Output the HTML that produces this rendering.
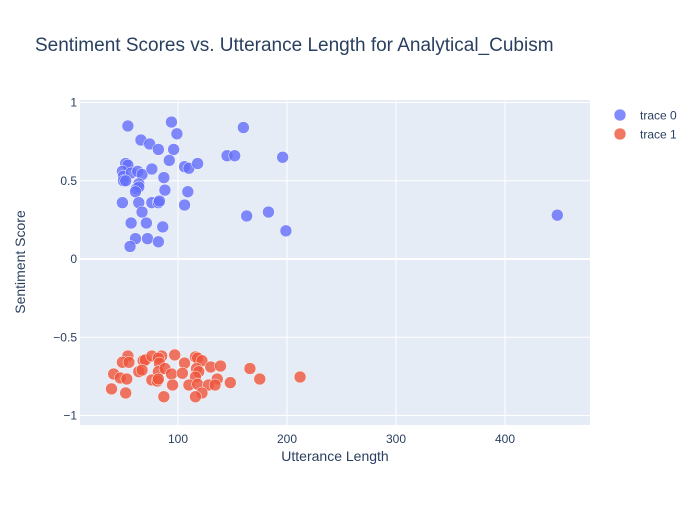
<!DOCTYPE html>
<html><head><meta charset="utf-8"><style>
body{margin:0;background:#fff;font-family:"Liberation Sans",Arial,sans-serif}
svg text{font-family:"Liberation Sans",Arial,sans-serif;fill:#2a3f5f}
</style></head><body>
<svg id="chart" width="700" height="500">
<rect x="0" y="0" width="700" height="500" fill="#fff"/>
<text x="35" y="51" font-size="19">Sentiment Scores vs. Utterance Length for Analytical_Cubism</text>
<rect x="80" y="100" width="510" height="325" fill="#e5ecf6"/>
<g id="grid"></g><g id="ticks"></g><g id="marks"></g>
<text x="335" y="461" font-size="14" text-anchor="middle">Utterance Length</text>
<text transform="translate(25,262) rotate(-90)" font-size="14" text-anchor="middle">Sentiment Score</text>
<g>
<g><circle cx="620" cy="115" r="6" fill="#636efa" fill-opacity="0.8" stroke="#fff" stroke-width="0.5"/><text x="640" y="119.5" font-size="12">trace 0</text></g>
<g><circle cx="620" cy="134" r="6" fill="#EF553B" fill-opacity="0.8" stroke="#fff" stroke-width="0.5"/><text x="640" y="138.5" font-size="12">trace 1</text></g>
</g>
</svg>
<script>
const xTicks=[100,200,300,400];
const yTicks=[-1,-0.5,0,0.5,1];
const yTickLabels=["−1","−0.5","0","0.5","1"];
const trace0X=[54,94,99,66,74,82,96,92,52,54,106,110,118,145,152,196,160,49,50,57,63,67,76,50,52,87,88,64,62,64,61,49,64,76,82,83,67,109,106,57,71,86,163,183,61,72,82,56,199,448];
const trace0Y=[0.85,0.875,0.80,0.76,0.735,0.70,0.70,0.63,0.61,0.60,0.59,0.58,0.61,0.66,0.66,0.65,0.84,0.56,0.53,0.55,0.56,0.54,0.575,0.50,0.50,0.52,0.44,0.48,0.45,0.46,0.43,0.36,0.36,0.36,0.36,0.37,0.30,0.43,0.345,0.23,0.23,0.205,0.275,0.30,0.13,0.13,0.11,0.08,0.18,0.28];
const trace1X=[54,49,55,41,47,53,39,52,68,70,76,85,82,83,64,67,82,88,94,76,81,82,87,95,97,106,104,116,118,122,117,119,116,130,139,136,110,118,128,134,122,116,148,166,175,212];
const trace1Y=[-0.62,-0.66,-0.66,-0.735,-0.76,-0.767,-0.83,-0.856,-0.65,-0.645,-0.62,-0.62,-0.633,-0.665,-0.72,-0.71,-0.72,-0.70,-0.735,-0.773,-0.78,-0.767,-0.88,-0.805,-0.613,-0.665,-0.73,-0.626,-0.633,-0.65,-0.70,-0.72,-0.754,-0.69,-0.684,-0.767,-0.805,-0.80,-0.805,-0.805,-0.856,-0.88,-0.79,-0.70,-0.767,-0.754];
const X=v=>69+v*1.09, Y=v=>259-v*156.5;
const NS="http://www.w3.org/2000/svg";
function mk(p,t,a){const e=document.createElementNS(NS,t);for(const k in a)e.setAttribute(k,a[k]);p.appendChild(e);return e;}
const grid=document.getElementById('grid'),ticks=document.getElementById('ticks'),marks=document.getElementById('marks');
xTicks.forEach(v=>{const l=mk(grid,'line',{x1:X(v),x2:X(v),y1:100,y2:425,stroke:'#fff','stroke-width':1});


const t=mk(ticks,'text',{x:X(v),y:443,'font-size':12,'text-anchor':'middle'});t.textContent=v;

});
yTicks.forEach((v,i)=>{const l=mk(grid,'line',{x1:80,x2:590,y1:Y(v),y2:Y(v),stroke:'#fff','stroke-width':v===0?2:1});


const t=mk(ticks,'text',{x:77,y:Y(v)+4,'font-size':12,'text-anchor':'end'});t.textContent=yTickLabels[i];

});
function draw(xs,ys,c,n){xs.forEach((x,i)=>{const e=mk(marks,'circle',{cx:X(x),cy:Y(ys[i]),r:6,fill:c,'fill-opacity':0.8,stroke:'#fff','stroke-width':0.5});

});}
draw(trace0X,trace0Y,'#636efa','trace-0-point');
draw(trace1X,trace1Y,'#EF553B','trace-1-point');
</script>
</body></html>
